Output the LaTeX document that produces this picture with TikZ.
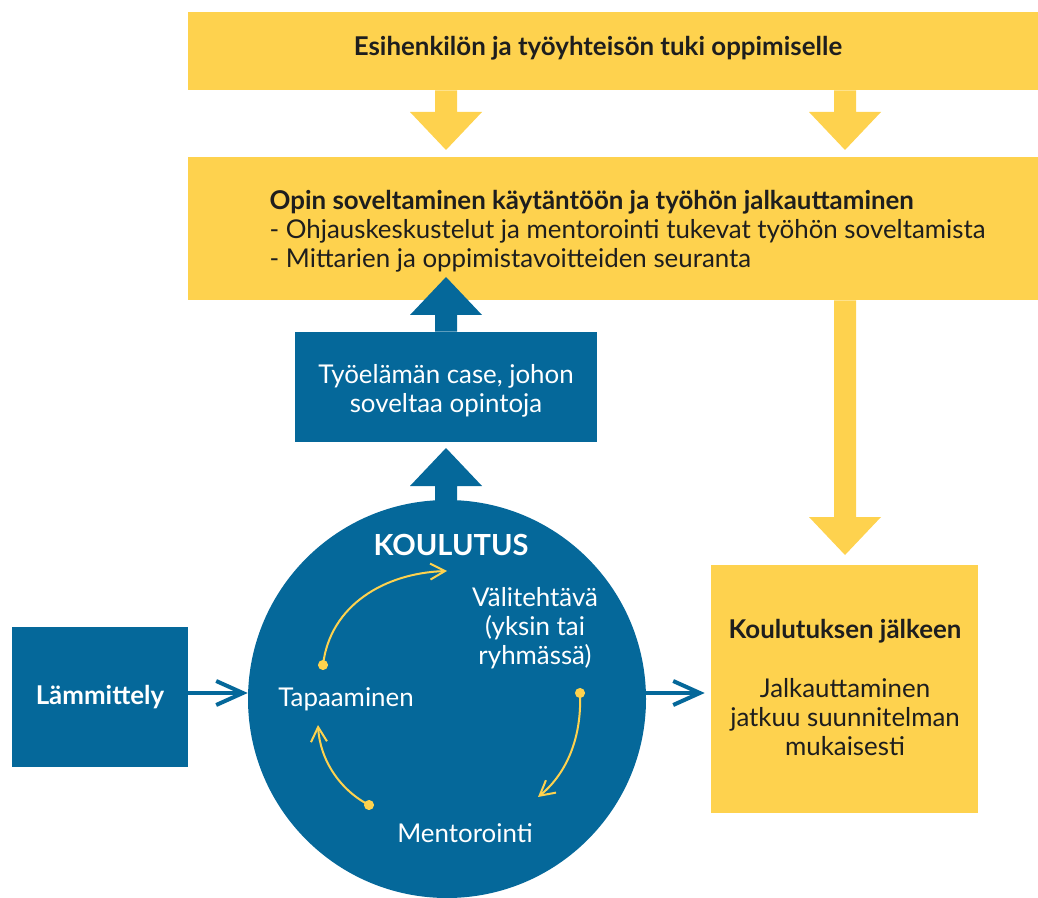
\documentclass[tikz,border=0pt]{standalone}
\usepackage{fontspec}
\setmainfont{Lato}
\usetikzlibrary{arrows.meta,calc}
\definecolor{yel}{HTML}{FED24E}
\definecolor{blu}{HTML}{05689A}
\definecolor{ink}{HTML}{1E1E1E}
\newcommand\blockarrow[3]{%
  \fill[#1] let \p1=(#2), \p2=(#3), \n1={sign(\y2-\y1)} in
  (\x2-8.25pt,\y1) -- (\x2-8.25pt,\y2-\n1*28.5pt) -- (\x2-27pt,\y2-\n1*28.5pt) --
  (\x2,\y2) -- (\x2+27pt,\y2-\n1*28.5pt) -- (\x2+8.25pt,\y2-\n1*28.5pt) --
  (\x2+8.25pt,\y1) -- cycle;}
\begin{document}
\begin{tikzpicture}[x=0.75pt,y=-0.75pt,
  txt/.style={font=\fontsize{19.4}{21.75}\selectfont},
  btxt/.style={font=\fontsize{19.4}{21.75}\selectfont\bfseries},
  ybox/.style={fill=yel,inner sep=0pt},
  bbox/.style={fill=blu,inner sep=0pt,text=white},
  thinarrow/.style={draw=yel,line width=1.5pt,-{Straight Barb[length=11pt,width=12pt]}},
  bluearrow/.style={draw=blu,line width=3pt,-{Straight Barb[length=20pt,width=18pt]}}]
\useasboundingbox (0,0) rectangle (1038,898);
% boxes
\node[ybox,minimum width=850*0.75pt,minimum height=78*0.75pt] (top) at (613,51) {};
\node[btxt,text=ink] (toplabel) at (598,48) {Esihenkilön ja työyhteisön tuki oppimiselle};
\node[ybox,minimum width=850*0.75pt,minimum height=143*0.75pt] (mid) at (613,228.5) {};
\node[txt,text=ink,align=left,anchor=west] (midlabel) at (265,231)
  {\textbf{Opin soveltaminen käytäntöön ja työhön jalkauttaminen}\\
   - Ohjauskeskustelut ja mentorointi tukevat työhön soveltamista\\
   - Mittarien ja oppimistavoitteiden seuranta};
\node[bbox,minimum width=302*0.75pt,minimum height=110*0.75pt] (case) at (446,387) {};
\node[txt,text=white,align=center] (caselabel) at (446,391) {Työelämän case, johon\\soveltaa opintoja};
\node[bbox,btxt,minimum width=176*0.75pt,minimum height=140*0.75pt] (warm) at (100,697) {Lämmittely};
\node[ybox,minimum width=267*0.75pt,minimum height=248*0.75pt] (after) at (844.5,689) {};
\node[btxt,text=ink] (aftertitle) at (845,631) {Koulutuksen jälkeen};
\node[txt,text=ink,align=center] (afterbody) at (845,717) {Jalkauttaminen\\jatkuu suunnitelman\\mukaisesti};
\node[circle,fill=blu,minimum size=398*0.75pt,inner sep=0pt] (circ) at (447,699) {};
% block arrows
\coordinate (t1) at (446,150);
\coordinate (t2) at (845,150);
\coordinate (t3) at (446,277);
\coordinate (t4) at (446,448);
\coordinate (t5) at (845,555);
\blockarrow{yel}{top.south -| t1}{t1}
\blockarrow{yel}{top.south -| t2}{t2}
\blockarrow{blu}{case.north}{t3}
\blockarrow{blu}{$(circ.north)+(0,20)$}{t4}
\blockarrow{yel}{mid.south -| t5}{t5}
% circle content
\node[text=white,font=\fontsize{21.8}{24}\selectfont\bfseries] (kou) at (451,545) {KOULUTUS};
\node[txt,text=white,align=center] (vali) at (535,628) {Välitehtävä\\(yksin tai\\ryhmässä)};
\node[txt,text=white] (tapa) at (346,699) {Tapaaminen};
\node[txt,text=white] (ment) at (465,833) {Mentorointi};
\coordinate (a1s) at (323,665); \coordinate (a1e) at (447,571);
\coordinate (a2s) at (580,693); \coordinate (a2e) at (538,797);
\coordinate (a3s) at (369,805); \coordinate (a3e) at (318,725);
\fill[yel] (a1s) circle (3.8pt) (a2s) circle (3.8pt) (a3s) circle (3.8pt);
\draw[thinarrow] (a1s) .. controls (330,605) and (385,573) .. (a1e);
\draw[thinarrow] (a2s) .. controls (582,740) and (565,775) .. (a2e);
\draw[thinarrow] (a3s) .. controls (340,790) and (320,760) .. (a3e);
% small connectors
\draw[bluearrow] (warm.east |- 0,693) -- (circ.west |- 0,693);
\draw[bluearrow] (circ.east |- 0,693) -- ([xshift=-4.5pt]after.west |- 0,693);
\end{tikzpicture}
\end{document}
